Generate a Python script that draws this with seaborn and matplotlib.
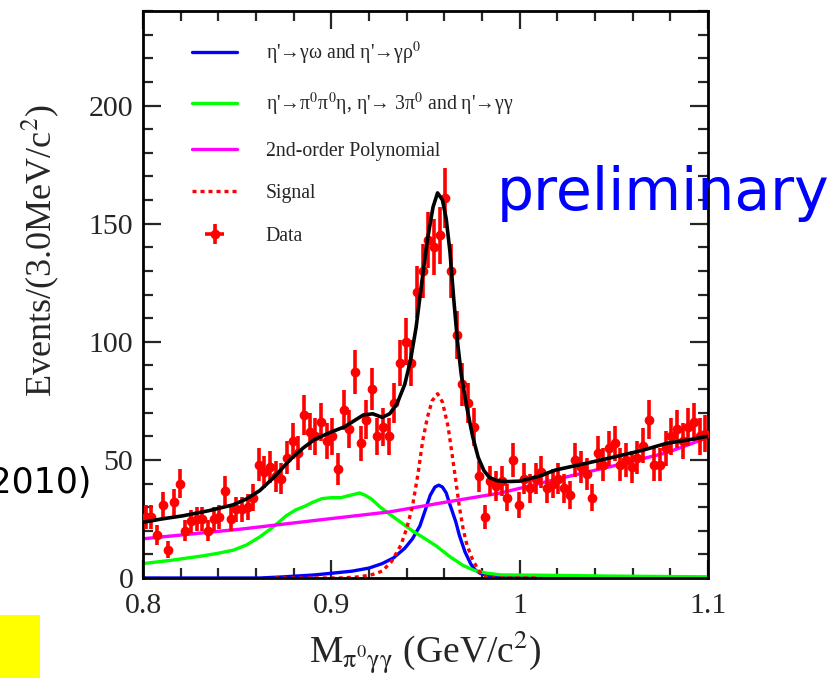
import numpy as np
import pandas as pd
import matplotlib
matplotlib.use("Agg")
import matplotlib.pyplot as plt
from matplotlib.patches import Rectangle
import seaborn as sns

# ---------------- data ----------------
bin_lo = 0.8
bin_width = 0.003
counts = [26, 26, 18, 31, 12, 32, 40, 20, 24, 25,
          25, 20, 25, 26, 37, 25, 29, 29, 30, 34,
          48, 45, 47, 43, 42, 51, 58, 53, 69, 62,
          60, 66, 58, 60, 46, 71, 63, 87, 57, 67,
          80, 60, 64, 60, 74, 91, 100, 91, 121, 130,
          143, 140, 145, 161, 130, 103, 82, 74, 64, 43,
          26, 41, 39, 41, 34, 50, 31, 42, 38, 42,
          45, 38, 40, 42, 38, 35, 50, 47, 44, 34,
          53, 48, 55, 57, 48, 50, 47, 51, 56, 67,
          48, 48, 55, 60, 63, 58, 64, 66, 60, 61]

total_x = [0.800, 0.810, 0.821, 0.835, 0.848, 0.855, 0.862, 0.870, 0.878, 0.885,
           0.891, 0.899, 0.907, 0.912, 0.917, 0.922, 0.927, 0.931, 0.935, 0.939,
           0.942, 0.945, 0.948, 0.951, 0.954, 0.9564, 0.959, 0.961, 0.963, 0.965,
           0.967, 0.969, 0.972, 0.975, 0.978, 0.981, 0.984, 0.988, 0.993, 1.000,
           1.010, 1.019, 1.035, 1.049, 1.065, 1.078, 1.090, 1.100]
total_y = [23.6, 25.0, 26.3, 28.5, 31.0, 33.5, 37.0, 43.0, 50.0, 55.0,
           58.6, 61.5, 64.0, 66.5, 69.0, 69.5, 68.0, 69.5, 74.0, 82.0,
           92.0, 106.0, 125.0, 143.0, 157.0, 163.0, 160.0, 152.0, 138.0, 118.0,
           100.0, 86.0, 72.0, 60.0, 51.0, 45.5, 42.5, 41.2, 40.8, 41.0,
           43.0, 45.7, 48.5, 51.0, 54.0, 57.0, 58.5, 60.0]

green_x = [0.800, 0.815, 0.832, 0.840, 0.848, 0.855, 0.862, 0.869, 0.876, 0.881,
           0.886, 0.890, 0.895, 0.900, 0.905, 0.910, 0.915, 0.918, 0.921, 0.926,
           0.931, 0.937, 0.943, 0.950, 0.956, 0.963, 0.970, 0.976, 0.982, 0.990,
           1.0095, 1.049, 1.100]
green_y = [6.1, 7.5, 9.4, 10.5, 11.8, 14.0, 17.4, 21.5, 26.3, 28.8,
           30.4, 32.0, 33.6, 34.0, 34.0, 35.0, 36.0, 35.0, 33.6, 30.0,
           27.0, 23.5, 20.0, 16.5, 13.4, 9.0, 5.3, 3.2, 2.1, 1.3,
           1.2, 0.8, 0.5]

poly_x = [0.800, 0.852, 0.895, 0.931, 0.960, 0.990, 1.019, 1.049, 1.078, 1.100]
poly_y = [16.6, 20.7, 24.7, 28.0, 32.0, 36.0, 41.7, 47.3, 53.0, 59.5]

blue_x = [0.800, 0.862, 0.875, 0.891, 0.900, 0.911, 0.920, 0.927, 0.933, 0.939,
          0.943, 0.947, 0.950, 0.9525, 0.955, 0.957, 0.959, 0.961, 0.963, 0.966,
          0.968, 0.971, 0.974, 0.976, 0.979, 0.982, 0.990, 1.010, 1.100]
blue_y = [0.0, 0.0, 0.5, 1.3, 2.0, 2.9, 4.2, 6.1, 8.5, 12.6,
          16.5, 22.0, 29.0, 35.0, 38.5, 39.3, 38.5, 36.0, 31.0, 24.0,
          18.0, 11.0, 6.0, 3.7, 2.0, 1.3, 0.5, 0.0, 0.0]

sig_x = [0.870, 0.905, 0.915, 0.922, 0.927, 0.932, 0.937, 0.940, 0.943, 0.946,
         0.9485, 0.951, 0.9535, 0.9564, 0.959, 0.962, 0.964, 0.966, 0.968, 0.970,
         0.972, 0.975, 0.978, 0.980, 0.984, 1.010]
sig_y = [0.0, 0.0, 0.5, 1.5, 2.9, 7.0, 14.0, 21.0, 30.0, 44.0,
         58.0, 68.0, 75.0, 78.0, 74.5, 64.0, 53.0, 41.7, 30.0, 20.7,
         14.0, 7.8, 3.5, 1.3, 0.0, 0.0]

labels = ["η'→γω and η'→γρ$^{0}$",
          "η'→π$^{0}$π$^{0}$η, η'→ 3π$^{0}$ and η'→γγ",
          "2nd-order Polynomial",
          "Signal",
          "Data"]

# ---------------- style ----------------
sns.set_style("ticks")
plt.rcParams['font.family'] = ['Liberation Serif', 'DejaVu Serif']
plt.rcParams['mathtext.fontset'] = 'stix'

fig = plt.figure(figsize=(8.38, 6.78), dpi=100)
ax = fig.add_axes([143 / 838, 100 / 678, 565 / 838, 567 / 678])

centers = bin_lo + bin_width * (np.arange(len(counts)) + 0.5)
cnt = np.array(counts, dtype=float)

lw = 2.4
sns.lineplot(x=blue_x, y=blue_y, ax=ax, color="#0000ff", lw=lw, label=labels[0], sort=False)
sns.lineplot(x=green_x, y=green_y, ax=ax, color="#00ff00", lw=lw, label=labels[1], sort=False)
sns.lineplot(x=poly_x, y=poly_y, ax=ax, color="#ff00ff", lw=lw, label=labels[2], sort=False)
sns.lineplot(x=sig_x, y=sig_y, ax=ax, color="#ff0000", lw=lw, ls=(0, (1.2, 1.2)), label=labels[3], sort=False)
ax.errorbar(centers, cnt, yerr=np.sqrt(cnt), xerr=bin_width / 2, fmt='o', color="#ff0000",
            ms=6, elinewidth=2.6, capsize=0, label=labels[4], zorder=3)
sns.lineplot(x=total_x, y=total_y, ax=ax, color="black", lw=2.6, sort=False, zorder=4, legend=False)

ax.set_xlim(0.8, 1.1)
ax.set_ylim(0, 240)
ax.set_xticks([0.8, 0.9, 1.0, 1.1])
ax.set_xticklabels(["0.8", "0.9", "1", "1.1"])
ax.set_yticks([0, 50, 100, 150, 200])
ax.set_xticks(np.arange(0.8, 1.1001, 0.02), minor=True)
ax.set_yticks(np.arange(0, 241, 10), minor=True)
ax.tick_params(which='both', direction='in', top=True, right=True, width=1.6, labelsize=21.5)
ax.tick_params(axis='x', which='both', pad=11)
ax.tick_params(axis='y', which='both', pad=7)
ax.tick_params(which='major', length=13)
ax.tick_params(which='minor', length=7)
for s in ax.spines.values():
    s.set_linewidth(2)
    s.set_color('black')

ax.set_ylabel("Events/(3.0MeV/c$^{2}$)", fontsize=26)
ax.yaxis.set_label_coords(-0.145, 0.577)
ax.set_xlabel("M$_{\\mathrm{π^{0}γγ}}$ (GeV/c$^{2}$)", fontsize=27)
ax.xaxis.set_label_coords(0.5, -0.09)

h, l = ax.get_legend_handles_labels()
hd = {lab: hh for hh, lab in zip(h, l)}
ax.legend([hd[x] for x in labels], labels, loc='upper left', bbox_to_anchor=(0.055, 0.98),
          frameon=False, fontsize=14.2, handlelength=2.3, handletextpad=1.45,
          labelspacing=1.2)

fig.text(497 / 838, (678 - 210) / 678, "preliminary", color="#0000ff", fontsize=42,
         family="DejaVu Sans", ha='left', va='baseline')
fig.text(91 / 838, (678 - 493) / 678, "(2010)", color="black", fontsize=25,
         family="DejaVu Sans", ha='right', va='baseline')
fig.patches.append(Rectangle((0, 0), 40 / 838, 63 / 678, transform=fig.transFigure,
                             facecolor="#ffff00", edgecolor='none'))

fig.savefig("out.png", dpi=100)
